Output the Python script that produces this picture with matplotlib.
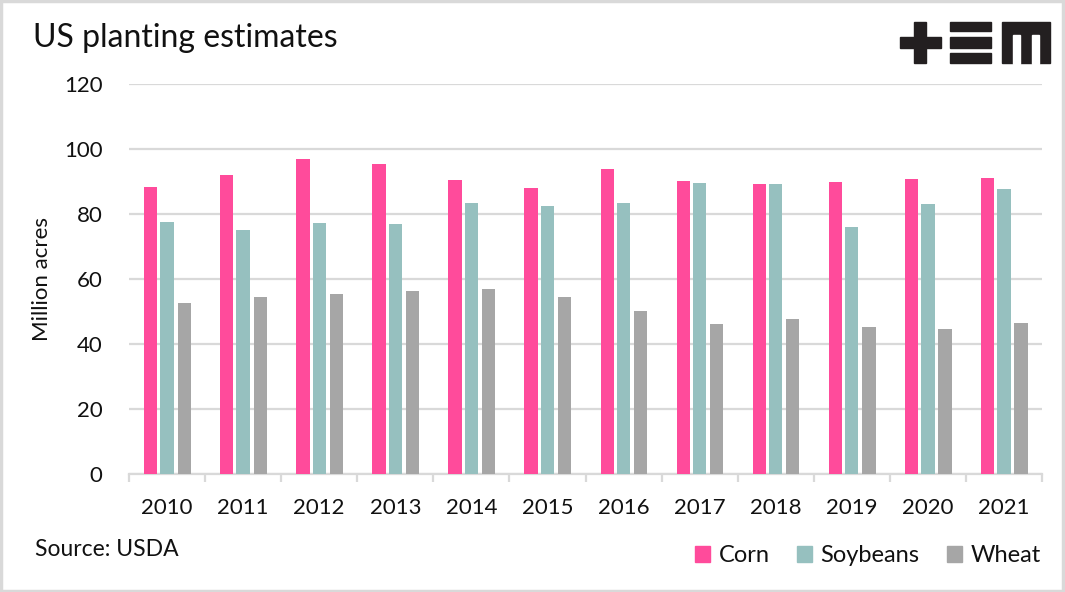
import numpy as np
import matplotlib
matplotlib.use("Agg")
import matplotlib.pyplot as plt
from matplotlib.patches import Rectangle, Patch

plt.rcParams['font.family'] = ['Lato', 'DejaVu Sans']

# Datos (millones de acres)
anios = ['2010', '2011', '2012', '2013', '2014', '2015',
         '2016', '2017', '2018', '2019', '2020', '2021']
maiz = [88.2, 91.9, 97.0, 95.4, 90.6, 88.0, 94.0, 90.2, 89.1, 89.7, 90.8, 91.1]
soja = [77.4, 75.0, 77.2, 76.8, 83.3, 82.6, 83.4, 89.5, 89.2, 76.1, 83.1, 87.6]
trigo = [52.6, 54.4, 55.3, 56.2, 56.8, 54.6, 50.1, 46.1, 47.8, 45.2, 44.5, 46.4]

C_MAIZ = '#FF4B9B'
C_SOJA = '#96C0BF'
C_TRIGO = '#A6A6A6'
C_GRID = '#D9D9D9'
C_TEXTO = '#111111'

fig = plt.figure(figsize=(10.65, 5.92), dpi=100)
ax = fig.add_axes([129 / 1065, 1 - 474 / 592, (1042 - 129) / 1065, (474 - 84) / 592])

x = np.arange(len(anios))
ancho = 0.175
ax.bar(x - 0.215, maiz, ancho, color=C_MAIZ, zorder=3)
ax.bar(x, soja, ancho, color=C_SOJA, zorder=3)
ax.bar(x + 0.225, trigo, ancho, color=C_TRIGO, zorder=3)

ax.set_xlim(-0.5, len(anios) - 0.5)
ax.set_ylim(0, 120)
ax.set_yticks(range(0, 121, 20))
ax.yaxis.grid(True, color=C_GRID, linewidth=1.6, zorder=0)
ax.tick_params(axis='y', length=0, pad=19, labelsize=16, labelcolor=C_TEXTO)

ax.set_xticks(x)
ax.set_xticklabels(anios)
ax.set_xticks(np.arange(-0.5, len(anios), 1), minor=True)
ax.tick_params(axis='x', which='major', length=0, pad=17, labelsize=16, labelcolor=C_TEXTO)
ax.tick_params(axis='x', which='minor', length=6, width=1.6, color=C_GRID)

for lado in ['top', 'right', 'left']:
    ax.spines[lado].set_visible(False)
ax.spines['bottom'].set_color(C_GRID)
ax.spines['bottom'].set_linewidth(1.6)

ax.set_ylabel('Million acres', fontsize=16, color=C_TEXTO)
ax.yaxis.set_label_coords(-77 / 913, 0.5)

# Titulo y fuente
fig.text(33 / 1065, 1 - 38 / 592, 'US planting estimates', fontsize=23,
         color=C_TEXTO, va='center', ha='left')
fig.text(35 / 1065, 1 - 549 / 592, 'Source: USDA', fontsize=16.5,
         color=C_TEXTO, va='center', ha='left')

# Leyenda
handles = [Patch(color=C_MAIZ, label='Corn'),
           Patch(color=C_SOJA, label='Soybeans'),
           Patch(color=C_TRIGO, label='Wheat')]
leg = fig.legend(handles=handles, loc='center right', ncol=3, frameon=False,
                 bbox_to_anchor=(1057 / 1065, 1 - 556 / 592), fontsize=17,
                 handlelength=0.65, handleheight=0.65, handletextpad=0.35,
                 columnspacing=1.15, borderpad=0.2)
for t in leg.get_texts():
    t.set_color(C_TEXTO)

# Logo +EM
W, H = 1065., 592.
C_LOGO = '#231F20'


def caja(x0, y0, x1, y1, color=C_LOGO):
    fig.patches.append(Rectangle((x0 / W, 1 - y1 / H), (x1 - x0) / W, (y1 - y0) / H,
                                 transform=fig.transFigure, color=color, zorder=5))


caja(900, 37, 941, 48)
caja(914, 22, 926, 63)
caja(950, 22, 991, 31)
caja(950, 37, 991, 48)
caja(950, 53, 991, 63)
caja(1002, 22, 1050, 63)
caja(1013, 35, 1020, 64, 'white')
caja(1032, 35, 1039, 64, 'white')

# Borde
fig.patches.append(Rectangle((0.001, 0.002), 0.997, 0.996, transform=fig.transFigure,
                             fill=False, edgecolor=C_GRID, linewidth=2.5, zorder=6))

fig.savefig('out.png', dpi=100)
